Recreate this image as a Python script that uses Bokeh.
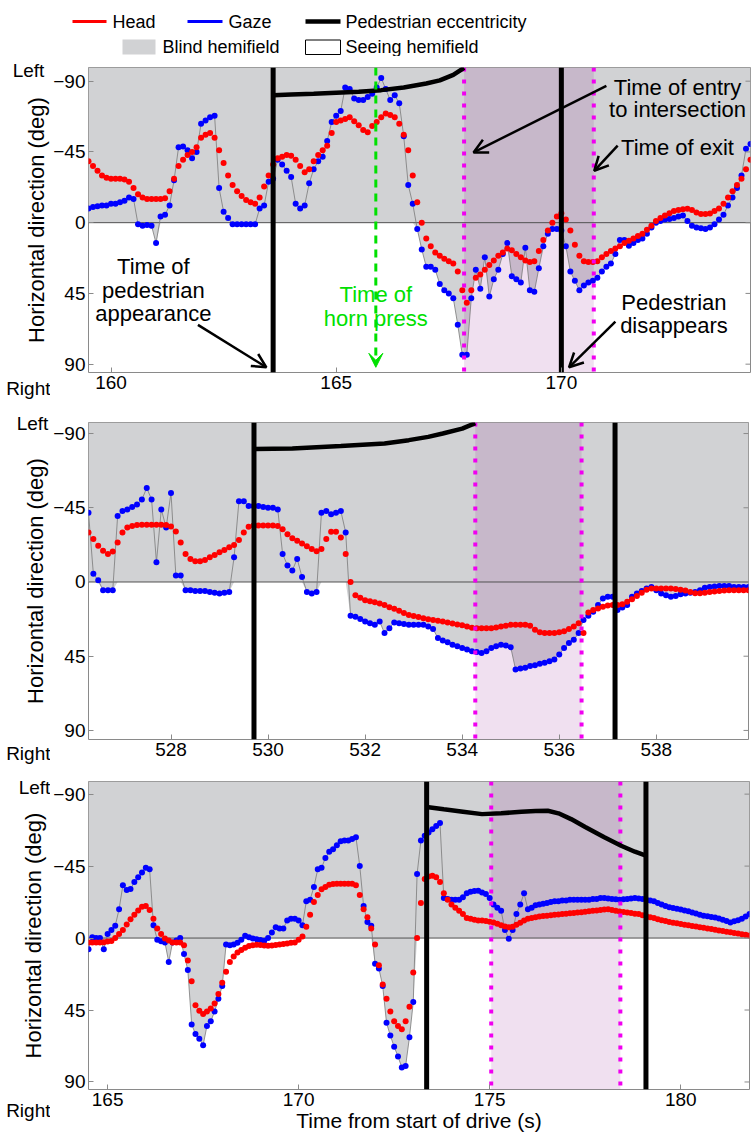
import numpy as np
from bokeh.plotting import figure
from bokeh.layouts import column, row
from bokeh.models import Range1d, Label, Arrow, OpenHead, VeeHead, FixedTicker
from bokeh.core.properties import value
from bokeh.embed import file_html
from bokeh.resources import INLINE

DT = 0.1  # sample interval (s)

# ---------------- Panel 1 ----------------
p1_t0 = 159.5
p1_head = [-39, -36, -33, -30, -28.5,
           -28, -28, -28, -27.5, -26, -22, -18, -16, -15, -15,
           -15, -15, -15.5, -20, -28, -36, -40, -43, -45, -48,
           -54, -56, -57, -54, -46, -38, -30, -24, -20, -17,
           -14.5, -13, -12, -16, -23, -30, -37, -41, -42, -43,
           -42.5, -40, -36, -32, -34, -39, -43, -46, -49, -57,
           -64, -65, -66, -67, -64.5, -62, -59, -57.5, -61.5, -64,
           -67, -69.5, -68.5, -67, -63, -56, -46, -30, -13, 0,
           10, 15, 19, 21, 23, 24.5, 26, 31, 43, 51,
           43, 35, 33, 30, 27, 24, 21, 19, 16.5, 17.5,
           20, 22, 24, 25, 24.5, 18, 11, 5, 0, -4,
           -6, -2, 5, 14, 21, 24.5, 25, 25, 24.5, 22,
           20, 18, 16.5, 15, 13, 11.5, 10, 8.5, 7, 4.5,
           2, -1, -3, -4.5, -6, -7.5, -8, -8.5, -8.8, -8,
           -6.5, -5.5, -5.5, -5.8, -7.5, -9, -12, -16, -20, -24,
           -28, -34, -40]
p1_gaze = [-9, -10, -10.5, -11, -11,
           -12, -12, -13, -14, -16, -15, 1, 2, 1.5, 2,
           13, -4, -5, -11, -27, -48, -48.5, -46, -41, -45,
           -63, -65, -67, -68, -22, -7, -3, 1, 1, 1,
           1, 1, 1, -9, -11, -26, -28, -40, -37, -33,
           -29, -12, -9, -11, -25, -34, -39, -42, -52, -64,
           -68, -71, -86, -85, -79, -78, -78, -80, -82, -86,
           -92, -85, -78, -81, -76, -55, -24, -12, 4, 17,
           28, 28, 30, 39, 43, 45, 48, 65, 84, 84,
           48, 30, 42, 22, 47, 36, 30, 20, 13, 34,
           36, 38, 16, 43, 44, 29, 15, 7, 4, 4,
           5, 15, 31, 37, 43, 40, 38, 37, 35, 31,
           28, 26, 20, 11, 11, 14.7, 13, 11, 10, 7,
           3, 0, -1, -2, -2.3, -3, -4, -4.5, -1, 2,
           3, 3.5, 4, 3, 1, -2, -5, -11, -16, -22,
           -30, -47, -50]
p1_ped_t = [163.6, 164.0, 164.5, 165.0, 165.5, 166.0, 166.5, 167.0, 167.3, 167.6, 167.84]
p1_ped_v = [-81, -81.5, -82, -82.7, -83.3, -84.3, -86, -88.5, -90.5, -94, -98.5]
p1_appear, p1_disappear = 163.6, 170.0
p1_entry, p1_exit = 167.84, 170.72
p1_horn = 165.88
p1_xticks = [160, 165, 170]

# ---------------- Panel 2 ----------------
p2_t0 = 526.3
p2_head = [-30, -26, -22, -19, -17, -18.5, -24,
           -30, -33, -34, -34.5, -34.7, -34.7, -34.7, -34.7, -34.7, -34.5,
           -33.7, -30.6, -24, -17, -14, -12.5, -12.5, -13.3, -15, -16.3,
           -18, -19.4, -21, -22.4, -25.5, -30, -33.5, -34.3, -34.3, -34.3,
           -34.3, -34.3, -34, -32, -29, -26.5, -25, -23.3, -21.7, -20,
           -18.6, -20, -26, -30.5, -30.5, -27, -17, 0, 8, 9.5,
           11, 11.7, 12.3, 13, 14, 15.3, 16.3, 17.5, 18.8, 20,
           20.6, 21.3, 22, 22.6, 23.1, 23.5, 24, 24.6, 25.2, 25.8,
           26.3, 27, 27.7, 28, 28, 28, 28, 27.6, 27, 26.5,
           26, 26, 26, 26, 26.5, 29, 30.5, 31, 31, 31,
           30.5, 29.8, 28.5, 27, 25, 31, 18.5, 17, 16, 15,
           14.2, 14, 14, 13.5, 12, 10.5, 8.5, 6.5, 4.7, 4,
           4, 4, 4, 4, 4.3, 4.7, 5.2, 6, 6.8, 6.8,
           6.5, 6, 5.8, 5.5, 5.2, 5, 5, 5, 5, 5]
p2_gaze = [-42, -5, -1, 5, 5, 5, -40,
           -43, -44, -45.5, -47, -50, -57, -50, -12, -44, -33,
           -54, -4, -4, 5, 5, 5.5, 5.5, 5.5, 6, 6.5,
           7, 6.5, 6, -15, -49, -49, -46, -46, -46, -45.5,
           -45, -45, -44, -17, -10, -7, -14, -3, 6, 7,
           6, -42, -43, -41, -42, -43, -30, 20.4, 21, 22.5,
           24, 25, 26, 24, 31, 28, 24.5, 25, 25.5, 26,
           26, 26, 26, 27, 28.5, 34, 35.5, 36.5, 38, 39,
           40, 41, 42, 42.5, 43, 42, 40, 39, 38, 38.5,
           39.5, 53, 52.5, 52, 51, 50.5, 49.5, 49, 48, 47,
           44, 40, 37, 35, 31, 23, 20.5, 18, 14, 10,
           9, 9, 17, 15.5, 14, 9, 7, 5.5, 4, 3,
           5, 7, 8, 9, 8.5, 7.5, 7, 6.5, 6, 5,
           3.5, 3, 2.7, 2.5, 2.4, 2.5, 3, 3, 3, 3]
p2_ped_t = [529.71, 530.5, 531.5, 532.4, 532.9, 533.3, 533.6, 534.0, 534.27]
p2_ped_v = [-80.6, -81, -82.5, -84, -86, -88, -90, -93, -96.3]
p2_appear, p2_disappear = 529.71, 537.15
p2_entry, p2_exit = 534.27, 536.46
p2_xticks = [528, 530, 532, 534, 536, 538]

# ---------------- Panel 3 ----------------
p3_t0 = 164.5
p3_head = [2.7, 2.7, 2.7, 2.7, 2.6,
           2.2, 1.8, 0, -2.5, -5, -8.5, -11.7, -14.5, -17.3, -19.5,
           -20, -17.5, -12, -6, -2.5, 0.3, 1.5, 2.7, 2.7, 2.7,
           4.5, 14, 27, 42, 45.5, 47.5, 46, 44, 41, 35,
           28, 21, 15, 11.5, 9, 7.5, 6, 5, 4.5, 4.2,
           4.4, 4.6, 4.8, 4.6, 4.3, 4, 3.7, 3.4, 3, 2.7,
           1, -1, -7, -14.5, -22.5, -27, -30.5, -32, -33.4, -33.8,
           -34, -34, -34, -34, -34, -33, -27, -18, -13, -6,
           4, 17, 29, 38, 46, 52, 55, 57, 52, 43,
           21.5, 0, -22, -37, -38.5, -39, -38, -35, -28, -24,
           -21, -19, -17, -15, -12.5, -12, -11.5, -11, -11, -10.6,
           -10.2, -9.8, -9, -8, -7.3, -6.8, -7, -8.3, -9.5, -11,
           -12, -12.5, -13, -13.5, -13.8, -14, -14.3, -14.6, -14.8, -15,
           -15.2, -15.5, -15.7, -16, -16.2, -16.5, -16.7, -17, -17.2, -17.5,
           -17.8, -18, -17.5, -17, -16.6, -16.3, -16, -15.6, -15.2, -15,
           -14.3, -13.7, -13, -12.5, -11.8, -11.2, -10.6, -10, -9.6, -9.2,
           -8.8, -8.4, -8, -7.6, -7.2, -6.8, -6.4, -6, -5.6, -5.2,
           -4.8, -4.4, -4, -3.6, -3.2, -2.8, -2.4, -2, -1.6]
p3_gaze = [7, -0.5, 0, 0, 7,
           -2.5, -5, -7.7, -18, -33, -30, -30.6, -35, -38, -41,
           -44, -43, -8, 1, 2, 2.7, 15, 2.7, 1.5, 0,
           10, 20, 54, 60, 63, 67, 55, 52, 46, 38,
           30, 4, 4.5, 4, 3, 1, -1.5, -0.5, 0.3, 0.8,
           1.2, 1.7, 0, -3.5, -6.7, -6, -6, -11, -12, -12,
           -11, -8, -23, -24, -32, -43, -44, -50, -54, -55.5,
           -58, -60.5, -61, -61, -62, -63, -45, -20, -10, -7.7,
           16, 19, 30, 53, 61, 68, 74, 81, 80, 62,
           40, -40, -61, -64, -66, -68, -70, -72, -25, -24.5,
           -24, -24, -24, -25.5, -28, -29, -29.4, -29.6, -28.5, -27.5,
           -25, -21, -19, -17, -5, 0.5, -5, -15, -21, -28,
           -18, -19, -20.5, -21, -21.5, -22, -22.5, -23, -23, -23.5,
           -23.5, -24, -24, -24, -24, -24, -24, -24.5, -24.5, -25,
           -25, -24.8, -24.5, -24.3, -24, -24.2, -24.5, -24.7, -25, -24.8,
           -24.5, -24, -23.5, -23, -22, -21, -20, -19.3, -18.8, -18.3,
           -17.8, -17.3, -16.8, -16, -15.3, -14.6, -14, -13.6, -13.2, -12.8,
           -12.3, -11.5, -10.7, -9.8, -10.5, -11.2, -12, -13.5, -15]
p3_ped_t = [173.35, 173.8, 174.3, 174.8, 175.3, 175.83, 176.2, 176.52, 176.8, 177.13,
            177.5, 178.0, 178.44, 178.8, 179.09]
p3_ped_v = [-82, -80.5, -79, -77.5, -78, -79, -79.5, -79.6, -78, -74.4,
            -69.5, -63, -57.7, -54, -51.5]
p3_appear, p3_disappear = 173.35, 179.09
p3_entry, p3_exit = 175.04, 178.42
p3_xticks = [165, 170, 175, 180]

y_ticks = [-90, -45, 0, 45, 90]
y_title = "Horizontal direction (deg)"
x_title = "Time from start of drive (s)"

FONT = "Liberation Sans"
GRAY = "#d1d2d4"
MAGENTA = "#f000f0"
GREEN = "#00e000"
FRAME = "#8a8a8a"
SIDE_W = 50
LEG_H = 56


def add_lines_text(p, x, ys, lines, color="black", size="22px"):
    for y, s in zip(ys, lines):
        p.add_layout(Label(x=x, y=y, text=s, text_align="center", text_baseline="middle",
                           text_font=FONT, text_font_size=size, text_color=color))


def make_side(h, left_xy, right_xy, ylab_xy):
    s = figure(width=SIDE_W, height=h, x_range=Range1d(0, SIDE_W), y_range=Range1d(h, 0),
               min_border=0, output_backend="svg", toolbar_location=None)
    s.frame_align = False
    s.axis.visible = False
    s.grid.visible = False
    s.outline_line_color = None
    s.text(x=[left_xy[0]], y=[left_xy[1]], text=["Left"], text_align="center",
           text_baseline="alphabetic", text_font=value(FONT), text_font_size="19px", text_color="black")
    s.text(x=[right_xy[0]], y=[right_xy[1]], text=["Right"], text_align="right",
           text_baseline="alphabetic", text_font=value(FONT), text_font_size="19px", text_color="black")
    s.text(x=[ylab_xy[0]], y=[ylab_xy[1]], text=[y_title], angle=np.pi / 2, text_align="center",
           text_baseline="middle", text_font=value(FONT), text_font_size="22px", text_color="black")
    return s


def style_axis(ax):
    ax.axis_line_color = None
    ax.major_tick_in = 5
    ax.major_tick_out = 0
    ax.major_tick_line_color = FRAME
    ax.minor_tick_line_color = None
    ax.major_label_text_font = FONT
    ax.major_label_text_font_size = "19px"
    ax.major_label_text_color = "black"
    ax.axis_label_text_font = FONT
    ax.axis_label_text_font_style = "normal"
    ax.axis_label_text_color = "black"


def make_panel(t0, head, gaze, ped_t, ped_v, appear, disappear, entry, exit_,
               xr, yr, xticks, fw, fh, bl, br, bt, bb, xlabel=None):
    t = t0 + DT * np.arange(len(head))
    hd = np.asarray(head, float)
    gz = np.asarray(gaze, float)
    ybot, ytop = yr
    p = figure(frame_width=fw, frame_height=fh, x_range=Range1d(*xr), y_range=Range1d(ybot, ytop),
               min_border_left=bl, min_border_right=br, min_border_top=bt, min_border_bottom=bb,
               output_backend="svg", toolbar_location=None)
    p.frame_align = False
    p.grid.visible = False
    p.outline_line_color = FRAME
    p.outline_line_width = 1

    # blind hemifield: from the left edge down to the gaze direction (or the midline)
    p.varea(x=t, y1=np.full_like(t, ytop), y2=np.maximum(gz, 0), fill_color=GRAY)
    # time spent in the intersection
    p.quad(left=[entry], right=[exit_], bottom=[ybot], top=[ytop],
           fill_color="purple", fill_alpha=0.12, line_color=None)
    p.line(x=[xr[0], xr[1]], y=[0, 0], line_color="#505050", line_width=1)
    p.line(t, gz, line_color="#7a7a7a", line_width=0.8)
    p.scatter(t, gz, size=6, fill_color="#0000ff", line_color=None)
    p.scatter(t, hd, size=6, fill_color="#ff0000", line_color=None)
    for xe in (entry, exit_):
        p.line([xe, xe], [ytop, ybot], line_color=MAGENTA, line_width=4, line_dash="4 8")
    for xe in (appear, disappear):
        p.line([xe, xe], [ytop, ybot], line_color="black", line_width=5)
    p.line(ped_t, ped_v, line_color="black", line_width=4.5)

    # inward tick marks on the right edge (no labels)
    p.ray(x=[xr[1]] * len(y_ticks), y=y_ticks, length=5, length_units="screen", angle=np.pi,
          line_color=FRAME, line_width=1)

    p.xaxis.ticker = FixedTicker(ticks=xticks)
    p.yaxis.ticker = FixedTicker(ticks=y_ticks)
    for ax in p.axis:
        style_axis(ax)
    p.xaxis.major_label_standoff = 3
    p.yaxis.major_label_standoff = 3
    if xlabel:
        p.xaxis.axis_label = xlabel
        p.xaxis.axis_label_text_font_size = "21px"
        p.xaxis.axis_label_standoff = 0
    return p


# ---------------- legend ----------------
leg = figure(width=751, height=LEG_H, x_range=Range1d(0, 751), y_range=Range1d(LEG_H, 0),
             min_border=0, output_backend="svg", toolbar_location=None)
leg.frame_align = False
leg.axis.visible = False
leg.grid.visible = False
leg.outline_line_color = None
leg.segment(x0=[72], x1=[106], y0=[21], y1=[21], line_color="#ff0000", line_width=3)
leg.segment(x0=[187], x1=[222], y0=[21], y1=[21], line_color="#0000ff", line_width=3)
leg.segment(x0=[305], x1=[340], y0=[21], y1=[21], line_color="black", line_width=4.5)
leg.quad(left=[122], right=[155], top=[39], bottom=[54], fill_color=GRAY, line_color=None)
leg.quad(left=[305], right=[340], top=[39.5], bottom=[54], fill_color="white", line_color="black", line_width=1)
leg.text(x=[112, 228, 345, 162, 345], y=[21, 21, 21, 46, 46],
         text=["Head", "Gaze", "Pedestrian eccentricity", "Blind hemifield", "Seeing hemifield"],
         text_font=value(FONT), text_font_size="18px", text_baseline="middle", text_align="left",
         text_color="black")

# ---------------- panels ----------------
p1 = make_panel(p1_t0, p1_head, p1_gaze, p1_ped_t, p1_ped_v, p1_appear, p1_disappear, p1_entry, p1_exit,
                (159.5, 174.2), (95.3, -98.7), p1_xticks, 662, 305, 34, 5, 11, 28)
p2 = make_panel(p2_t0, p2_head, p2_gaze, p2_ped_t, p2_ped_v, p2_appear, p2_disappear, p2_entry, p2_exit,
                (526.3, 539.9), (95.5, -96.7), p2_xticks, 660, 317, 33, 8, 22, 25)
p3 = make_panel(p3_t0, p3_head, p3_gaze, p3_ped_t, p3_ped_v, p3_appear, p3_disappear, p3_entry, p3_exit,
                (164.5, 181.8), (94.7, -97.9), p3_xticks, 661, 308, 36, 4, 17, 50, xlabel=x_title)

s1 = make_side(11 + 305 + 28, (28, 14), (50, 332), (36, 163.5))
s2 = make_side(22 + 317 + 25, (32, 23), (50, 353), (35, 180.5))
s3 = make_side(17 + 308 + 50, (34, 23), (50, 346), (33, 171))

# ---------------- panel 1 annotations ----------------
add_lines_text(p1, 160.94, [28, 43, 58], ["Time of", "pedestrian", "appearance"])
p1.add_layout(Arrow(end=OpenHead(size=14, line_width=2.5, line_color="black"),
                    x_start=161.93, y_start=65, x_end=163.45, y_end=92, line_width=2.5, line_color="black"))
add_lines_text(p1, p1_horn, [46, 61], ["Time of", "horn press"], color=GREEN)
p1.add_layout(Arrow(end=VeeHead(size=14, fill_color=GREEN, line_color=GREEN),
                    x_start=p1_horn, y_start=-98.7, x_end=p1_horn, y_end=92,
                    line_width=3, line_color=GREEN, line_dash="8 6"))
add_lines_text(p1, 172.58, [-86, -72], ["Time of entry", "to intersection"])
p1.add_layout(Arrow(end=OpenHead(size=14, line_width=2.5, line_color="black"),
                    x_start=171.0, y_start=-87, x_end=168.05, y_end=-44.7, line_width=2.5, line_color="black"))
add_lines_text(p1, 172.58, [-48], ["Time of exit"])
p1.add_layout(Arrow(end=OpenHead(size=14, line_width=2.5, line_color="black"),
                    x_start=171.25, y_start=-49, x_end=170.73, y_end=-33, line_width=2.5, line_color="black"))
add_lines_text(p1, 172.5, [50.6, 65.3], ["Pedestrian", "disappears"])
p1.add_layout(Arrow(end=OpenHead(size=14, line_width=2.5, line_color="black"),
                    x_start=171.2, y_start=63, x_end=170.17, y_end=92, line_width=2.5, line_color="black"))

layout = column(leg, row(s1, p1, spacing=0), row(s2, p2, spacing=0), row(s3, p3, spacing=0), spacing=0)
open("out.html", "w").write(file_html(layout, INLINE))
